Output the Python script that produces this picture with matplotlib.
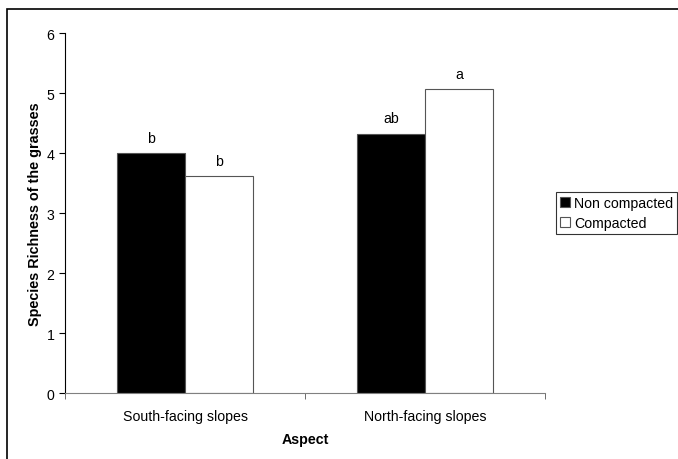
import numpy as np
import matplotlib.pyplot as plt
from matplotlib.patches import Rectangle

plt.rcParams['font.family'] = ['Liberation Sans', 'DejaVu Sans']

aspects = ['South-facing slopes', 'North-facing slopes']
non_compacted = [4.0, 4.33]
compacted = [3.62, 5.07]
letters_non = ['b', 'ab']
letters_comp = ['b', 'a']

fig = plt.figure(figsize=(6.78, 4.6), dpi=100)
ax = fig.add_axes([0.0959, 0.1428, 0.7079, 0.7826])

# outer frame (only top/left visible in the original)
fig.patches.append(Rectangle((7 / 678, -0.1), 1.2, 0.1 + (460 - 10) / 460,
                             transform=fig.transFigure, fill=False,
                             edgecolor='black', linewidth=1.2))

x = np.arange(len(aspects))
w = 0.285
b1 = ax.bar(x - w / 2, non_compacted, w, color='black', edgecolor='#555555',
            linewidth=0.8, label='Non compacted')
b2 = ax.bar(x + w / 2, compacted, w, color='white', edgecolor='#555555',
            linewidth=0.8, label='Compacted')

for bars, labs in [(b1, letters_non), (b2, letters_comp)]:
    for bar, lab in zip(bars, labs):
        ax.annotate(lab, (bar.get_x() + bar.get_width() / 2, bar.get_height()),
                    xytext=(0, 6), textcoords='offset points',
                    ha='center', va='bottom', fontsize=10.2)

ax.set_xlim(-0.5, 1.5)
ax.set_ylim(0, 6)
ax.set_yticks(range(0, 7))
ax.set_xticks(x)
ax.set_xticklabels(aspects, fontsize=10.2)
ax.set_xticks([-0.5, 0.5, 1.5], minor=True)
ax.tick_params(axis='x', which='major', length=0, pad=11)
ax.tick_params(axis='x', which='minor', length=4, color='#555555')
ax.tick_params(axis='y', length=4, labelsize=10.2)

for s in ['top', 'right']:
    ax.spines[s].set_visible(False)
ax.spines['bottom'].set_color('#808080')
ax.spines['left'].set_color('black')

ax.set_xlabel('Aspect', fontsize=10.3, fontweight='bold', labelpad=7)
ax.set_ylabel('Species Richness of the grasses', fontsize=10.4,
              fontweight='bold', labelpad=3.5)

leg = ax.legend(loc='center left', bbox_to_anchor=(555.5 / 678, 1 - 214 / 460),
                bbox_transform=fig.transFigure, fontsize=10.2, frameon=True,
                fancybox=False, handlelength=0.7, handleheight=0.7,
                handletextpad=0.3, borderpad=0.3, labelspacing=0.4,
                borderaxespad=0)
leg.get_frame().set_edgecolor('black')
leg.get_frame().set_linewidth(0.8)

fig.savefig('out.png', dpi=100)
